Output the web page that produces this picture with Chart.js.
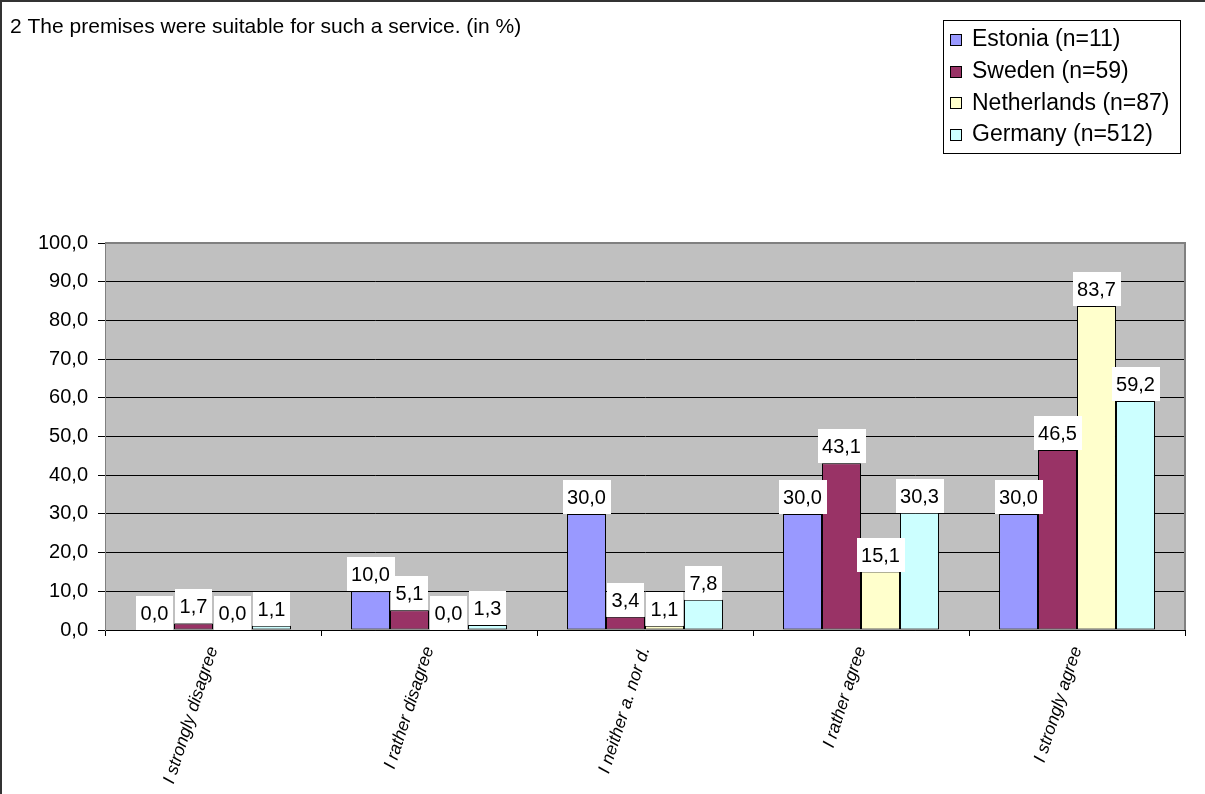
<!DOCTYPE html>
<html>
<head>
<meta charset="utf-8">
<script src="https://cdn.jsdelivr.net/npm/chart.js@4/dist/chart.umd.min.js"></script>
<style>
  html, body { margin: 0; padding: 0; background: #fff; }
  #wrap { position: relative; width: 1205px; height: 794px; }
</style>
</head>
<body>
<div id="wrap"><canvas id="chart" width="1205" height="794"></canvas></div>
<script>
  var TITLE = '2 The premises were suitable for such a service. (in %)';
  var categories = ['I strongly disagree', 'I rather disagree', 'I neither a. nor d.', 'I rather agree', 'I strongly agree'];
  var estonia = [0.0, 10.0, 30.0, 30.0, 30.0];
  var sweden = [1.7, 5.1, 3.4, 43.1, 46.5];
  var netherlands = [0.0, 0.0, 1.1, 15.1, 83.7];
  var germany = [1.1, 1.3, 7.8, 30.3, 59.2];
  var seriesNames = ['Estonia (n=11)', 'Sweden (n=59)', 'Netherlands (n=87)', 'Germany (n=512)'];
  var seriesColors = ['#9999FF', '#993366', '#FFFFCC', '#CCFFFF'];

  var FONT = '"Liberation Sans", Arial, sans-serif';

  function fmt(v) { return Number(v).toFixed(1).replace('.', ','); }

  // frame, title and grey plot background
  var backdrop = {
    id: 'backdrop',
    beforeDraw: function (chart) {
      var ctx = chart.ctx, a = chart.chartArea;
      ctx.save();
      ctx.fillStyle = '#fff';
      ctx.fillRect(0, 0, chart.width, chart.height);
      ctx.fillStyle = '#C0C0C0';
      ctx.fillRect(a.left, a.top, a.right - a.left, a.bottom - a.top);
      ctx.fillStyle = '#000';
      ctx.font = '21px ' + FONT;
      ctx.textBaseline = 'alphabetic';
      ctx.fillText(TITLE, 10, 33);
      ctx.restore();
    },
    afterDraw: function (chart) {
      var ctx = chart.ctx, a = chart.chartArea;
      ctx.save();
      ctx.strokeStyle = '#808080';
      ctx.lineWidth = 2;
      ctx.beginPath();
      ctx.moveTo(a.left, a.top);
      ctx.lineTo(a.right, a.top);
      ctx.lineTo(a.right, a.bottom);
      ctx.stroke();
      ctx.strokeStyle = '#333';
      ctx.lineWidth = 2;
      ctx.beginPath();
      ctx.moveTo(1, chart.height);
      ctx.lineTo(1, 1);
      ctx.lineTo(chart.width, 1);
      ctx.stroke();
      ctx.restore();
    }
  };

  // white value boxes sitting on top of each bar
  var valueBoxes = {
    id: 'valueBoxes',
    afterDatasetsDraw: function (chart) {
      var ctx = chart.ctx;
      ctx.save();
      ctx.font = '20px ' + FONT;
      ctx.textAlign = 'center';
      ctx.textBaseline = 'middle';
      chart.data.datasets.forEach(function (ds, i) {
        chart.getDatasetMeta(i).data.forEach(function (bar, j) {
          var txt = fmt(ds.data[j]);
          var w = ctx.measureText(txt).width + 9;
          var h = 34;
          var bottom = Math.round(bar.y);
          ctx.fillStyle = '#fff';
          ctx.fillRect(Math.round(bar.x - w / 2), bottom - h, Math.round(w), h);
          ctx.fillStyle = '#000';
          ctx.fillText(txt, bar.x, bottom - h / 2 + 1);
        });
      });
      ctx.restore();
    }
  };

  var boxLegend = {
    id: 'boxLegend',
    afterDraw: function (chart) {
      var ctx = chart.ctx;
      var x = 943, y = 20, w = 237, h = 133;
      ctx.save();
      ctx.fillStyle = '#fff';
      ctx.fillRect(x, y, w, h);
      ctx.strokeStyle = '#000';
      ctx.lineWidth = 1;
      ctx.strokeRect(x + 0.5, y + 0.5, w, h);
      ctx.font = '23px ' + FONT;
      ctx.textBaseline = 'middle';
      chart.data.datasets.forEach(function (ds, i) {
        var cy = 39 + i * 31.7;
        ctx.fillStyle = ds.backgroundColor;
        ctx.fillRect(950, Math.round(cy - 5), 12, 12);
        ctx.strokeStyle = '#000';
        ctx.strokeRect(950.5, Math.round(cy - 5) + 0.5, 11, 11);
        ctx.fillStyle = '#000';
        ctx.fillText(ds.label, 972, cy + 1);
      });
      ctx.restore();
    }
  };

  var allSeries = [estonia, sweden, netherlands, germany];
  var datasets = allSeries.map(function (vals, i) {
    return {
      label: seriesNames[i],
      data: vals,
      backgroundColor: seriesColors[i],
      borderColor: '#000',
      borderWidth: 1,
      borderSkipped: false,
      barPercentage: 1.0,
      categoryPercentage: 0.722
    };
  });

  new Chart(document.getElementById('chart'), {
    type: 'bar',
    data: { labels: categories, datasets: datasets },
    options: {
      responsive: false,
      animation: false,
      devicePixelRatio: 1,
      layout: { padding: { top: 243, right: 20, left: 0, bottom: 0 } },
      plugins: { legend: { display: false }, tooltip: { enabled: false } },
      scales: {
        x: {
          afterFit: function (s) { s.height = 164; },
          grid: { offset: true, drawOnChartArea: false, color: '#000', tickLength: 6 },
          border: { color: '#000', width: 1 },
          ticks: {
            color: '#000',
            minRotation: 72,
            maxRotation: 72,
            padding: 8,
            font: { family: FONT, size: 17.5, style: 'italic' }
          }
        },
        y: {
          min: 0,
          max: 100,
          afterFit: function (s) { s.width = 105; },
          grid: { color: '#000', tickLength: 7 },
          border: { color: '#808080', width: 1 },
          ticks: {
            stepSize: 10,
            color: '#000',
            padding: 10,
            font: { family: FONT, size: 20 },
            callback: function (v) { return fmt(v); }
          }
        }
      }
    },
    plugins: [backdrop, valueBoxes, boxLegend]
  });
</script>
</body>
</html>
